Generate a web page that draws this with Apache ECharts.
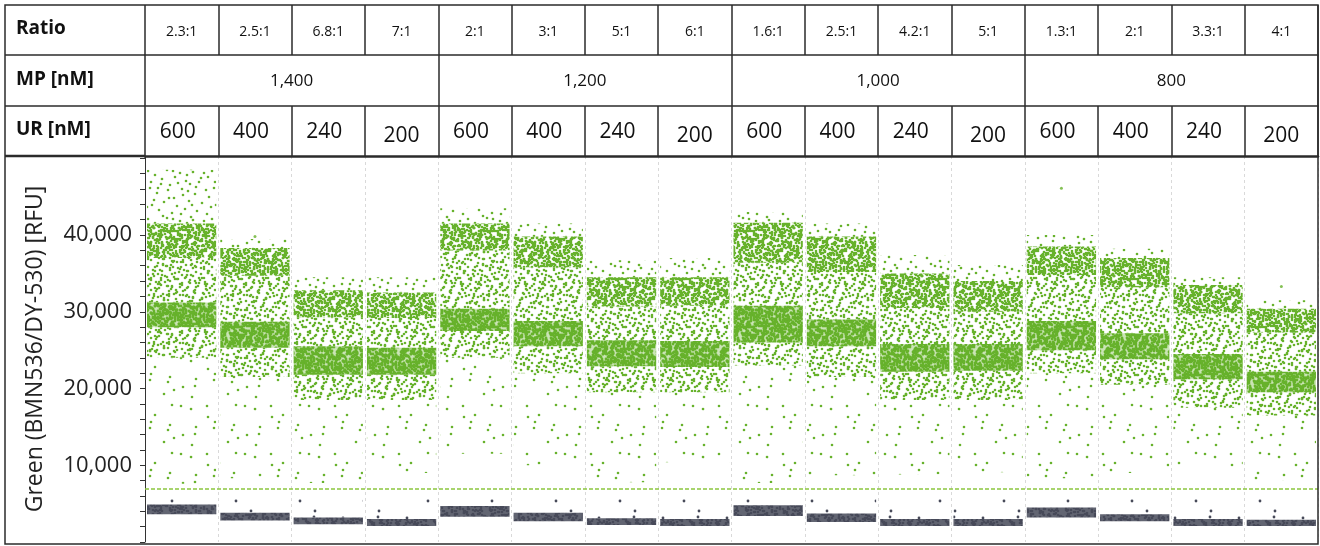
<!DOCTYPE html>
<html>
<head>
<meta charset="utf-8">
<script src="https://cdn.jsdelivr.net/npm/echarts@6/dist/echarts.min.js"></script>
<style>
  html, body { margin: 0; padding: 0; background: #fff; }
  #chart { width: 1320px; height: 546px; }
</style>
</head>
<body>
<div id="chart"></div>
<script>
// ---- Assay layout: 16 wells in 4 MP groups ----
const ratioLabels = ['2.3:1', '2.5:1', '6.8:1', '7:1', '2:1', '3:1', '5:1', '6:1',
                     '1.6:1', '2.5:1', '4.2:1', '5:1', '1.3:1', '2:1', '3.3:1', '4:1'];
const mpLabels = ['1,400', '1,200', '1,000', '800'];
const urLabels = ['600', '400', '240', '200', '600', '400', '240', '200',
                  '600', '400', '240', '200', '600', '400', '240', '200'];

// ---- Green channel amplitudes per well [RFU] ----
// double-positive cluster: top of scattered droplets, dense band top / bottom
const posCapTop = [48500, 39500, 34500, 34500, 43500, 41500, 36700, 37000, 43000, 41500, 37400, 36100, 40000, 38200, 34500, 31500];
const posHigh   = [41500, 38300, 32800, 32500, 41500, 39800, 34500, 34500, 41600, 39800, 35000, 34000, 38500, 37000, 33500, 30400];
const posLow    = [37000, 34700, 29300, 29200, 38000, 35800, 30700, 30800, 36400, 35200, 30500, 30000, 34800, 33200, 29800, 27300];
// single-positive cluster: dense band top / bottom
const midHigh   = [31200, 28700, 25500, 25300, 30400, 28800, 26300, 26200, 30800, 29000, 25800, 25800, 28800, 27200, 24500, 22200];
const midLow    = [28000, 25300, 21800, 21800, 27500, 25500, 22900, 22800, 26000, 25500, 22200, 22300, 25000, 23800, 21200, 19500];
// rain below the single-positive cluster: end of dense rain, lowest droplets
const rainLow   = [24000, 21500, 18500, 18500, 24000, 22000, 19500, 19500, 23000, 21500, 18500, 18500, 22000, 20500, 17500, 16500];
const rainFloor = [7600, 8300, 7700, 9000, 11500, 10000, 7800, 10400, 7700, 8700, 8800, 9100, 8300, 9000, 9800, 8000];
// negative droplets (grey)
const negTop    = [6400, 6300, 6000, 5800, 6800, 6200, 6400, 6300, 6900, 6500, 6600, 6700, 6600, 6500, 6600, 6800];
const negHigh   = [4900, 3800, 3200, 3000, 4700, 3800, 3100, 3000, 4800, 3700, 3000, 3000, 4500, 3600, 3000, 2900];
const negLow    = [3600, 2800, 2300, 2100, 3300, 2700, 2200, 2100, 3400, 2600, 2100, 2100, 3200, 2700, 2100, 2100];
// isolated droplets far from their well's clusters: [well index, amplitude]
const strayDroplets = [[12, 46100], [15, 33300], [1, 39800]];
// positivity threshold
const threshold = 7000;

// ---- droplet textures ----
const GREEN = '#67b22c';
const GREY = '#474a59';
const TILE_W = 64, TILE_H = 48;
const DOTS = [[3,2],[17,5],[29,1],[41,6],[55,3],[10,11],[24,13],[36,10],[49,14],[61,9],
  [5,19],[15,22],[31,18],[44,21],[57,17],[1,28],[20,27],[27,31],[39,26],[52,29],
  [63,25],[9,34],[23,38],[34,35],[47,33],[58,37],[4,43],[14,46],[30,44],[42,41],
  [54,45],[62,40],[12,29],[46,6],[35,24],[19,15],[53,22],[7,38],[40,46],[26,8],
  [59,31],[0,13],[33,40],[50,39],[16,33],[45,27],[22,44],[60,47]];
const ALL_DOTS = DOTS.map((d, i) => i);
const FAINT_DOTS = [0, 4, 7, 11, 13, 17, 20, 22, 26, 29, 33, 36, 38, 41, 44, 46];
const STRAY_DOTS = [0, 13, 22, 40, 25];
const SHIFTS = [[0,0],[32,17],[13,29],[45,9],[21,40],[54,33],[7,21],[38,44],
  [27,5],[59,25],[16,12],[49,36],[3,46],[36,28],[11,3],[43,23],[25,35],[57,13]];

function dropletTexture(color, copies, subset, bgAlpha, r) {
  const c = document.createElement('canvas');
  c.width = TILE_W; c.height = TILE_H;
  const ctx = c.getContext('2d');
  if (bgAlpha) {
    ctx.globalAlpha = bgAlpha;
    ctx.fillStyle = color;
    ctx.fillRect(0, 0, TILE_W, TILE_H);
    ctx.globalAlpha = 1;
  }
  ctx.fillStyle = color;
  for (let k = 0; k < copies; k++) {
    const [sx, sy] = SHIFTS[k];
    subset.forEach(j => {
      const [x, y] = DOTS[j];
      const px = (x + sx) % TILE_W, py = (y + sy) % TILE_H;
      for (const ox of [-TILE_W, 0, TILE_W]) {
        for (const oy of [-TILE_H, 0, TILE_H]) {
          ctx.beginPath();
          ctx.arc(px + ox, py + oy, r, 0, Math.PI * 2);
          ctx.fill();
        }
      }
    });
  }
  return { image: c, repeat: 'repeat' };
}

const textures = {
  faint: dropletTexture(GREEN, 1, FAINT_DOTS, 0, 1.3),
  sparse: dropletTexture(GREEN, 1, ALL_DOTS, 0, 1.3),
  rain: dropletTexture(GREEN, 4, ALL_DOTS, 0, 1.3),
  dense: dropletTexture(GREEN, 13, ALL_DOTS, 0, 1.35),
  solid: dropletTexture(GREEN, 16, ALL_DOTS, 0.35, 1.4),
  greySolid: dropletTexture(GREY, 8, ALL_DOTS, 0.85, 1.3),
  greyFaint: dropletTexture(GREY, 1, STRAY_DOTS, 0, 1.4)
};

function band(name, lows, highs, tex) {
  return {
    type: 'custom',
    name: name,
    silent: true,
    xAxisIndex: 0,
    yAxisIndex: 0,
    data: lows.map((lo, i) => [i, lo, highs[i]]),
    encode: { x: 0, y: [1, 2] },
    renderItem: function (params, api) {
      const i = api.value(0);
      const top = api.coord([i, api.value(2)]);
      const bottom = api.coord([i, api.value(1)]);
      const w = api.size([1, 0])[0];
      return {
        type: 'rect',
        shape: { x: top[0] - w / 2 + 2, y: top[1], width: w - 4, height: bottom[1] - top[1] },
        style: { fill: textures[tex] }
      };
    }
  };
}

const FONT = '"Open Sans", "Noto Sans", sans-serif';
const LINE = '#2b2b2b';

const chart = echarts.init(document.getElementById('chart'), null, { renderer: 'canvas' });

const option = {
  animation: false,
  backgroundColor: '#fff',
  textStyle: { fontFamily: FONT },
  grid: { left: 145, right: 2, top: 156, bottom: 4, outerBoundsMode: 'none', containLabel: false },
  xAxis: [
    { // UR row, also the well axis of the plot
      type: 'category', position: 'top', data: urLabels, boundaryGap: true,
      axisLine: { show: true, onZero: false, lineStyle: { color: LINE, width: 2.5 } },
      axisTick: { show: true, interval: 0, length: 50, lineStyle: { color: LINE, width: 1.5 } },
      axisLabel: {
        interval: 0, margin: 9, color: '#111', fontFamily: FONT,
        formatter: v => (v === '200' ? '{low|' + v + '}' : '{up|' + v + '}'),
        rich: {
          up: { fontSize: 21, fontFamily: FONT, color: '#111', padding: [0, 8, 4, 0] },
          low: { fontSize: 21, fontFamily: FONT, color: '#111', padding: [0, 0, 0, 0] }
        }
      },
      splitLine: { show: true, interval: 0, lineStyle: { color: '#d9d9d9', type: [3, 3], width: 1 } }
    },
    { // Ratio row
      type: 'category', position: 'top', offset: 101, data: ratioLabels, boundaryGap: true,
      axisLine: { show: true, onZero: false, lineStyle: { color: LINE, width: 1.5 } },
      axisTick: { show: true, interval: 0, length: 50, lineStyle: { color: LINE, width: 1.5 } },
      axisLabel: { interval: 0, margin: 16, fontSize: 14, color: '#111', fontFamily: FONT },
      splitLine: { show: false }
    },
    { // MP row
      type: 'category', position: 'top', offset: 50, data: mpLabels, boundaryGap: true,
      axisLine: { show: true, onZero: false, lineStyle: { color: LINE, width: 1.5 } },
      axisTick: { show: true, interval: 0, length: 51, lineStyle: { color: LINE, width: 1.5 } },
      axisLabel: { interval: 0, margin: 16, fontSize: 17, color: '#111', fontFamily: FONT },
      splitLine: { show: false }
    }
  ],
  yAxis: {
    type: 'value', min: 0, max: 50300, interval: 2000,
    name: 'Green (BMN536/DY-530) [RFU]', nameLocation: 'middle', nameGap: 98,
    nameTextStyle: { fontSize: 23, color: '#222', fontFamily: FONT },
    axisLine: { show: true, lineStyle: { color: '#333', width: 1 } },
    axisTick: { show: true, length: 5, inside: false, lineStyle: { color: '#333', width: 1 } },
    axisLabel: {
      margin: 13, fontSize: 22, color: '#222', fontFamily: FONT,
      formatter: v => (v > 0 && v <= 40000 && v % 10000 === 0 ? v.toLocaleString('en-US') : '')
    },
    splitLine: { show: false }
  },
  series: [
    band('Double-positive scatter', posHigh, posCapTop, 'sparse'),
    band('Double-positive', posLow, posHigh, 'dense'),
    band('Rain between clusters', midHigh, posLow, 'rain'),
    band('Single-positive', midLow, midHigh, 'solid'),
    band('Rain', rainLow, midLow, 'rain'),
    band('Rain tail', rainFloor, rainLow, 'faint'),
    band('Negative scatter', negHigh, negTop, 'greyFaint'),
    band('Negative', negLow, negHigh, 'greySolid'),
    {
      type: 'scatter', name: 'Stray droplets', silent: true,
      symbolSize: 3, itemStyle: { color: GREEN },
      data: strayDroplets,
      markLine: {
        silent: true, symbol: ['none', 'none'], label: { show: false },
        lineStyle: { color: '#8cc63f', type: [4, 2], width: 1.5 },
        data: [{ yAxis: threshold }]
      }
    }
  ],
  graphic: [
    { type: 'rect', silent: true, z: 100, shape: { x: 5, y: 5, width: 1313, height: 539 },
      style: { fill: 'none', stroke: LINE, lineWidth: 1.5 } },
    { type: 'line', silent: true, z: 100, shape: { x1: 5, y1: 55, x2: 145, y2: 55 }, style: { stroke: LINE, lineWidth: 1.5 } },
    { type: 'line', silent: true, z: 100, shape: { x1: 5, y1: 106, x2: 145, y2: 106 }, style: { stroke: LINE, lineWidth: 1.5 } },
    { type: 'line', silent: true, z: 100, shape: { x1: 5, y1: 156, x2: 145, y2: 156 }, style: { stroke: LINE, lineWidth: 2.5 } },
    { type: 'text', silent: true, z: 100, x: 16, y: 29,
      style: { text: 'Ratio', font: 'bold 19px ' + FONT, fill: '#111', verticalAlign: 'middle' } },
    { type: 'text', silent: true, z: 100, x: 16, y: 80,
      style: { text: 'MP [nM]', font: 'bold 19px ' + FONT, fill: '#111', verticalAlign: 'middle' } },
    { type: 'text', silent: true, z: 100, x: 16, y: 130,
      style: { text: 'UR [nM]', font: 'bold 19px ' + FONT, fill: '#111', verticalAlign: 'middle' } }
  ]
};

chart.setOption(option);
</script>
</body>
</html>
